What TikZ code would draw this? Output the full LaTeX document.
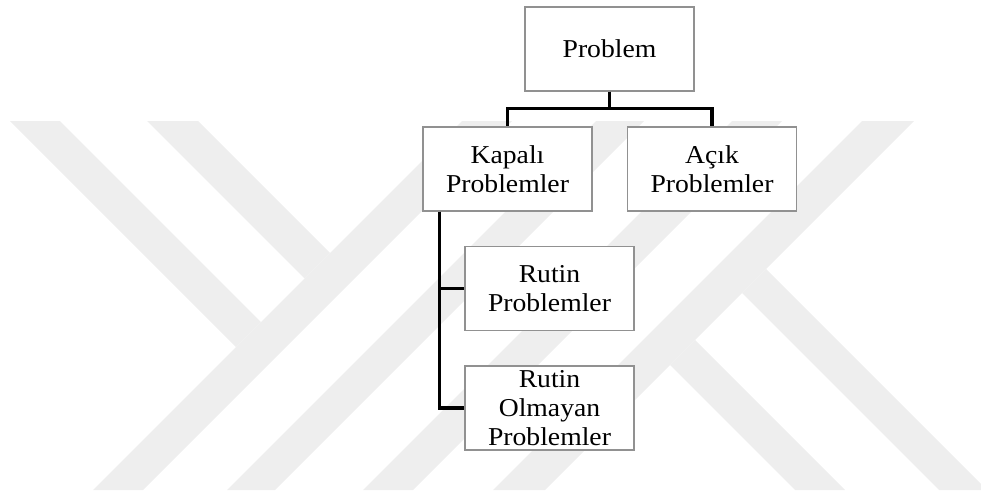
\documentclass[tikz,border=0pt]{standalone}
\usepackage{fontspec}
\setmainfont[FakeStretch=1.075]{Liberation Serif}
\definecolor{wmgray}{RGB}{238,238,238}
\definecolor{boxgray}{RGB}{145,145,145}
\tikzset{
  pbox/.style={rectangle, draw=boxgray, fill=white, line width=0.9pt, inner sep=0pt,
    minimum width=126.75pt, minimum height=63pt, align=center,
    font=\fontsize{19.3}{21.8}\selectfont},
  link/.style={black, line width=2.3pt}
}
\begin{document}
\begin{tikzpicture}[x=0.75pt, y=-0.75pt]
    \useasboundingbox (0, 0) rectangle (981, 496);
    % watermark in the background
    \fill[wmgray] (10, 121) -- (60, 121) -- (261, 322) -- (236, 347) -- cycle;
    \fill[wmgray] (147, 121) -- (198, 121) -- (330, 253) -- (304.5, 278.5) -- cycle;
    \fill[wmgray] (93, 490) -- (143, 490) -- (512, 121) -- (462, 121) -- cycle;
    \fill[wmgray] (227, 490) -- (275, 490) -- (644, 121) -- (596, 121) -- cycle;
    \fill[wmgray] (363, 490) -- (413, 490) -- (782, 121) -- (732, 121) -- cycle;
    \fill[wmgray] (493, 490) -- (545, 490) -- (914, 121) -- (862, 121) -- cycle;
    \fill[wmgray] (670, 365) -- (695, 340) -- (845, 490) -- (795, 490) -- cycle;
    \fill[wmgray] (742, 293) -- (766, 269) -- (987, 490) -- (939, 490) -- cycle;
    % boxes
    \node[pbox] (P) at (609.5, 49) {Problem};
    \node[pbox] (KP) at (507.5, 169) {Kapalı\\Problemler};
    \node[pbox] (AP) at (712, 169) {Açık\\Problemler};
    \node[pbox] (RP) at (549.5, 288.5) {Rutin\\Problemler};
    \node[pbox] (RO) at (549.5, 408) {Rutin\\Olmayan\\Problemler};
    % links
    \draw[link] (P.south) -- ++(0, 17) -| (KP.north);
    \draw[link] (P.south) -- ++(0, 17) -| (AP.north);
    \draw[link] ([xshift=12.75pt]KP.south west) |- (RP.west);
    \draw[link] ([xshift=12.75pt]KP.south west) |- (RO.west);
\end{tikzpicture}
\end{document}
